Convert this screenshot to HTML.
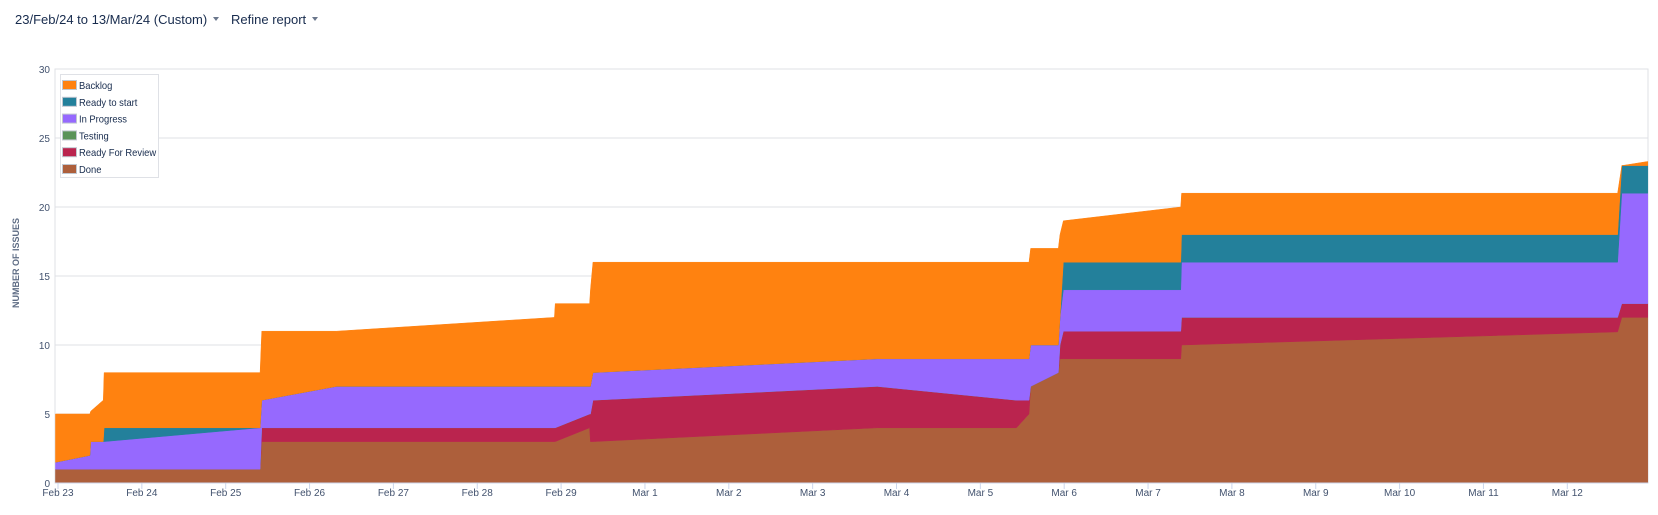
<!DOCTYPE html>
<html><head><meta charset="utf-8">
<style>
body{margin:0;background:#fff;font-family:"Liberation Sans",sans-serif;}
#wrap{position:relative;width:1658px;height:515px;overflow:hidden;}
.hdr{position:absolute;top:12px;font-size:13px;color:#172b4d;}
.caret{display:inline-block;width:0;height:0;border-left:3px solid transparent;border-right:3px solid transparent;border-top:4px solid #6b778c;vertical-align:middle;margin-left:6px;margin-top:-3px;}
</style></head><body>
<div id="wrap">
<div class="hdr" style="left:15px">23/Feb/24 to 13/Mar/24 (Custom)<span class="caret"></span></div>
<div class="hdr" style="left:231px">Refine report<span class="caret"></span></div>
<svg id="chart" width="1658" height="515" style="position:absolute;left:0;top:0"></svg>
</div>
<script>
// time in days since Feb 23
const times =     [-0.03,0.38,0.39,0.54,0.55,2.41,2.43,3.32,5.92,5.93,6.34,6.35,6.38,9.77,11.43,11.58,11.6,11.93,11.95,11.99,13.39,13.4,18.6,18.65,18.96];
const done =      [1,1,1,1,1,1,3,3,3,3,4,3,3,4,4,5,7,8,9,9,9,10,10.95,12,12];
const review =    [0,0,0,0,0,0,1,1,1,1,1,2,3,3,2,1,0,0,1,2,2,2,1.05,1,1];
const testing =   [0,0,0,0,0,0,0,0,0,0,0,0,0,0,0,0,0,0,0,0,0,0,0,0,0];
const inProgress =[0.5,1,2,2,2,3,2,3,3,3,2,2,2,2,3,3,3,2,2,3,3,4,4,8,8];
const readyStart =[0,0,0,0,1,0,0,0,0,0,0,0,0,0,0,0,0,0,0,2,2,2,2,2,2];
const backlog =   [3.5,3,2.2,3,4,4,5,4,5,6,6,7,8,7,7,7,7,7,6,3,4,3,3,0,0.3];
const seriesNames = ["Backlog","Ready to start","In Progress","Testing","Ready For Review","Done"];
const seriesColors = ["#ff8210","#23809b","#9669fe","#5b9459","#ba244e","#ad5f3b"];
const yTicks = [0,5,10,15,20,25,30];
const xLabels = ["Feb 23","Feb 24","Feb 25","Feb 26","Feb 27","Feb 28","Feb 29","Mar 1","Mar 2","Mar 3","Mar 4","Mar 5","Mar 6","Mar 7","Mar 8","Mar 9","Mar 10","Mar 11","Mar 12"];

const NS="http://www.w3.org/2000/svg";
const svg=document.getElementById('chart');
const L=55,R=1648,T=69,B=483;
const xs=t=>58+t*83.85;
const ys=v=>B-v*(B-T)/30;
function mk(tag,attrs,parent){const e=document.createElementNS(NS,tag);for(const k in attrs)e.setAttribute(k,attrs[k]);(parent||svg).appendChild(e);return e;}

// grid
yTicks.forEach(v=>{
  const g=mk('line',{x1:L,x2:R,y1:ys(v),y2:ys(v),stroke:'#dfe1e6','stroke-width':1});
  
  
  const tx=mk('text',{x:50,y:ys(v)+4,'text-anchor':'end','font-size':10,fill:'#42526e','font-family':'Liberation Sans, sans-serif'});
  tx.textContent=v;
  
  
});
const border=mk('rect',{x:L,y:T,width:R-L,height:B-T,fill:'none',stroke:'#dfe1e6'});



// stacked areas
const layers=[done,review,testing,inProgress,readyStart,backlog];
const layerIdx=[5,4,3,2,1,0];
let base=times.map(()=>0);
layers.forEach((arr,li)=>{
  const top=base.map((b,i)=>b+arr[i]);
  let d='M'+times.map((t,i)=>xs(t)+','+ys(top[i])).join(' L');
  for(let i=times.length-1;i>=0;i--) d+=' L'+xs(times[i])+','+ys(base[i]);
  d+='Z';
  const col=seriesColors[layerIdx[li]];
  const p=mk('path',{d:d,fill:col,stroke:col,'stroke-width':0.5});
  
  
  base=top;
});

// x axis
mk('line',{x1:L,x2:R,y1:B,y2:B,stroke:'#ccd6eb'});
xLabels.forEach((lab,i)=>{
  mk('line',{x1:xs(i),x2:xs(i),y1:B,y2:B+6,stroke:'#ccd6eb'});
  const tx=mk('text',{x:xs(i),y:B+13,'text-anchor':'middle','font-size':10,fill:'#42526e','font-family':'Liberation Sans, sans-serif'});
  tx.textContent=lab;
  
  
});
const yt=mk('text',{x:0,y:0,transform:'translate(19,263) rotate(-90)','text-anchor':'middle','font-size':9,'font-weight':'bold',fill:'#5e6c84','font-family':'Liberation Sans, sans-serif'});
yt.textContent='NUMBER OF ISSUES';



// legend
const lg=mk('g',{});


mk('rect',{x:60.5,y:74.5,width:98,height:103,fill:'#fff',stroke:'#dfe1e6'},lg);
seriesNames.forEach((n,i)=>{
  const y=80+i*16.8;
  const e=mk('g',{},lg);
  
  
  mk('rect',{x:62.5,y:y+0.5,width:14,height:9,fill:seriesColors[i],stroke:'#c1c7d0'},e);
  const t=mk('text',{x:79,y:y+9,'font-size':10,fill:'#172b4d','font-family':'Liberation Sans, sans-serif',transform:'translate(79,0) scale(0.94,1) translate(-79,0)'},e);
  t.textContent=n;
});
</script>
</body></html>
